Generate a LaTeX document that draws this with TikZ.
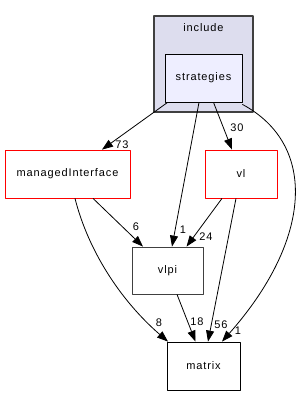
\documentclass[tikz,border=0pt]{standalone}
\usepackage{fontspec}
\setmainfont{Liberation Sans}[LetterSpace=8]
\usepackage{tikz}
\usetikzlibrary{arrows.meta}
\definecolor{clusterfill}{HTML}{DDDDEE}
\definecolor{dirfill}{HTML}{EEEEFF}
\definecolor{darkframe}{HTML}{404040}
\tikzset{cluster/.style={draw=darkframe,fill=clusterfill,line width=1.1pt,inner sep=0pt},
 dirbox/.style={draw=black,fill=white,line width=.8pt,minimum height=48pt,inner sep=0pt,font=\fontsize{11}{13}\selectfont},
 elabel/.style={inner sep=0pt,font=\fontsize{11}{13}\selectfont},
 dep/.style={draw=black,line width=.8pt,-{Triangle[length=11pt,width=8pt]}},
 every picture/.style={line join=round}}
\begin{document}
\begin{tikzpicture}[x=1pt,y=-1pt]
\useasboundingbox (0,0) rectangle (300,396);
\node[cluster,minimum width=99pt,minimum height=96pt] (include) at (203.5,64) {};
\node[elabel] (includetitle) at (203.5,28) {include};
\node[dirbox,fill=dirfill,minimum width=77pt] (strategies) at (203.5,78) {strategies};
\node[dirbox,draw=red,minimum width=125pt] (managed) at (67.5,174) {managedInterface};
\node[dirbox,draw=red,minimum width=72pt] (vl) at (241,174) {vl};
\node[dirbox,draw=darkframe,minimum width=71pt,minimum height=47pt] (vlpi) at (167.5,270.5) {vlpi};
\node[dirbox,minimum width=73pt] (matrix) at (203.5,366) {matrix};
\draw[dep] ([xshift=3pt]strategies.south west) -- ([xshift=34.5pt]managed.north);
\draw[dep] ([xshift=-4.5pt]strategies.south) -- ([xshift=4.5pt]vlpi.north);
\draw[dep] ([xshift=10pt]strategies.south) -- ([xshift=-9pt]vl.north);
\draw[dep] ([yshift=-2pt]strategies.south east) .. controls (318,145) and (312,240) .. ([xshift=18.5pt]matrix.north);
\draw[dep] ([xshift=25.5pt]managed.south) -- ([xshift=-24.5pt]vlpi.north);
\draw[dep] ([xshift=7.5pt]managed.south) .. controls (88,250) and (120,300) .. ([xshift=-35.5pt]matrix.north);
\draw[dep] ([xshift=-19pt]vl.south) -- ([xshift=19pt]vlpi.north);
\draw[dep] ([xshift=-5pt]vl.south) -- ([xshift=4.5pt]matrix.north);
\draw[dep] ([xshift=9.5pt]vlpi.south) -- ([xshift=-8pt]matrix.north);
\node[elabel] (n73) at (122,145) {73};
\node[elabel] (n1a) at (183,230) {1};
\node[elabel] (n30) at (237,128) {30};
\node[elabel] (n1b) at (238,331) {1};
\node[elabel] (n6) at (136,227) {6};
\node[elabel] (n8) at (159,323) {8};
\node[elabel] (n24) at (206,237) {24};
\node[elabel] (n56) at (221,325) {56};
\node[elabel] (n18) at (197,322) {18};
\end{tikzpicture}
\end{document}
